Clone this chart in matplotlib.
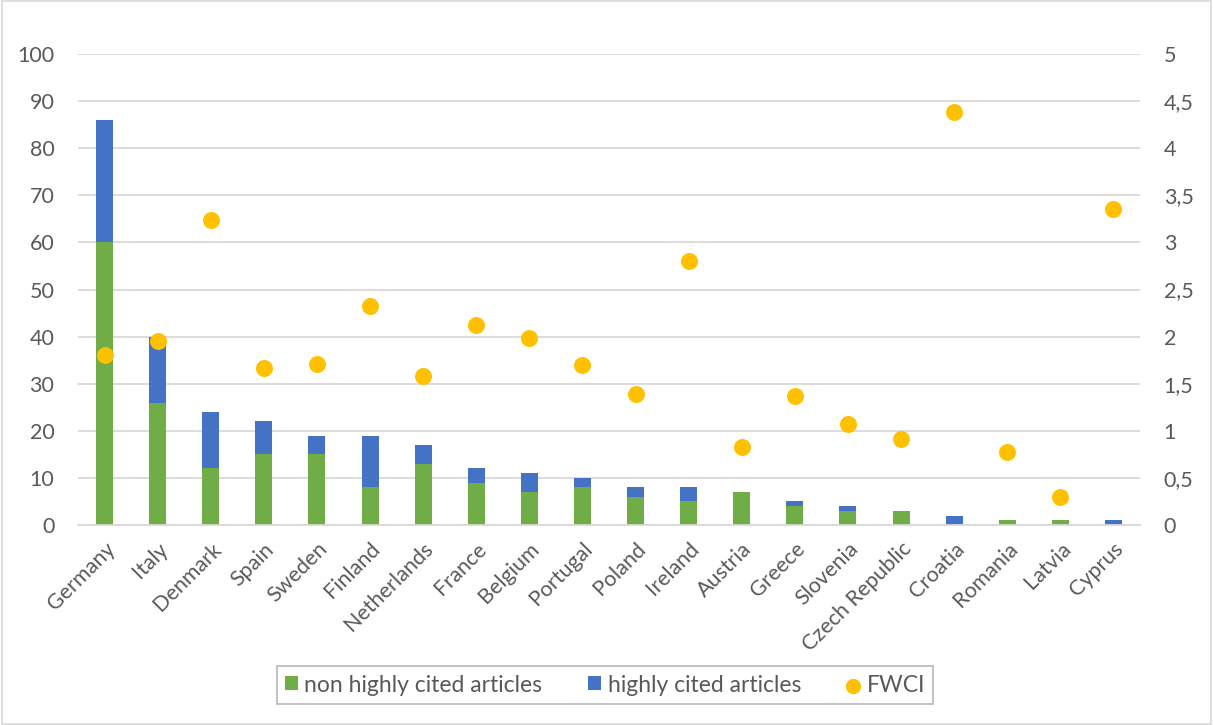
import matplotlib.pyplot as plt
import matplotlib.ticker as ticker
from matplotlib.patches import Rectangle
import numpy as np

plt.rcParams['font.family'] = ['Lato', 'DejaVu Sans']

countries = ["Germany", "Italy", "Denmark", "Spain", "Sweden", "Finland",
             "Netherlands", "France", "Belgium", "Portugal", "Poland", "Ireland",
             "Austria", "Greece", "Slovenia", "Czech Republic", "Croatia",
             "Romania", "Latvia", "Cyprus"]
non_highly_cited = [60, 26, 12, 15, 15, 8, 13, 9, 7, 8, 6, 5, 7, 4, 3, 3, 0, 1, 1, 0]
highly_cited = [26, 14, 12, 7, 4, 11, 4, 3, 4, 2, 2, 3, 0, 1, 1, 0, 2, 0, 0, 1]
fwci = [1.80, 1.95, 3.24, 1.67, 1.71, 2.33, 1.58, 2.12, 1.99, 1.70, 1.39, 2.80,
        0.83, 1.37, 1.07, 0.91, 4.38, 0.78, 0.30, 3.35]

GREEN = "#70AD47"
BLUE = "#4472C4"
GOLD = "#FFC000"
TEXT = "#595959"
GRID = "#D9D9D9"

fig = plt.figure(figsize=(12.13, 7.25), dpi=100)
ax = fig.add_axes([78 / 1213, 1 - 525 / 725, (1140 - 78) / 1213, (525 - 54) / 725])
ax2 = ax.twinx()

x = np.arange(len(countries))
w = 0.32
b1 = ax.bar(x, non_highly_cited, width=w, color=GREEN, zorder=2,
            label="non highly cited articles")
b2 = ax.bar(x, highly_cited, width=w, bottom=non_highly_cited, color=BLUE,
            zorder=2, label="highly cited articles")
sc = ax2.scatter(x, fwci, s=125, color=GOLD, zorder=3, label="FWCI")

ax.set_xlim(-0.5, len(countries) - 0.5)
ax.set_ylim(0, 100)
ax2.set_ylim(0, 5)
ax.set_yticks(np.arange(0, 101, 10))
ax2.set_yticks(np.arange(0, 5.01, 0.5))
ax2.yaxis.set_major_formatter(ticker.FuncFormatter(
    lambda v, p: ("%g" % v).replace(".", ",")))

ax.yaxis.grid(True, color=GRID, linewidth=1.3, zorder=0)
ax.set_axisbelow(True)
for a in (ax, ax2):
    for s in a.spines.values():
        s.set_visible(False)
ax.spines["bottom"].set_visible(True)
ax.spines["bottom"].set_color(GRID)
ax.spines["bottom"].set_linewidth(1.3)

ax.set_xticks(x)
ax.set_xticklabels(countries, rotation=45, ha="right", rotation_mode="anchor")
ax.tick_params(axis="x", length=0, pad=10, labelsize=15.5, labelcolor=TEXT)
ax.tick_params(axis="y", length=0, pad=17, labelsize=15.5, labelcolor=TEXT)
ax2.tick_params(axis="y", length=0, pad=17, labelsize=15.5, labelcolor=TEXT)

leg = fig.legend(handles=[b1, b2, sc], loc="center",
                 bbox_to_anchor=(605 / 1213, 1 - 685 / 725), ncol=3,
                 frameon=True, fancybox=False, fontsize=16.5, handlelength=0.55,
                 handleheight=0.55, columnspacing=2.0, handletextpad=0.3,
                 borderpad=0.35, borderaxespad=0, labelcolor=TEXT)
leg.get_frame().set_edgecolor("#A6A6A6")
leg.get_frame().set_linewidth(1.2)
leg.legend_handles[2].set_sizes([100])

fig.patches.append(Rectangle((0.002, 0.002), 0.996, 0.996, transform=fig.transFigure,
                             fill=False, edgecolor=GRID, linewidth=1.2))

fig.savefig("out.png", dpi=100)
